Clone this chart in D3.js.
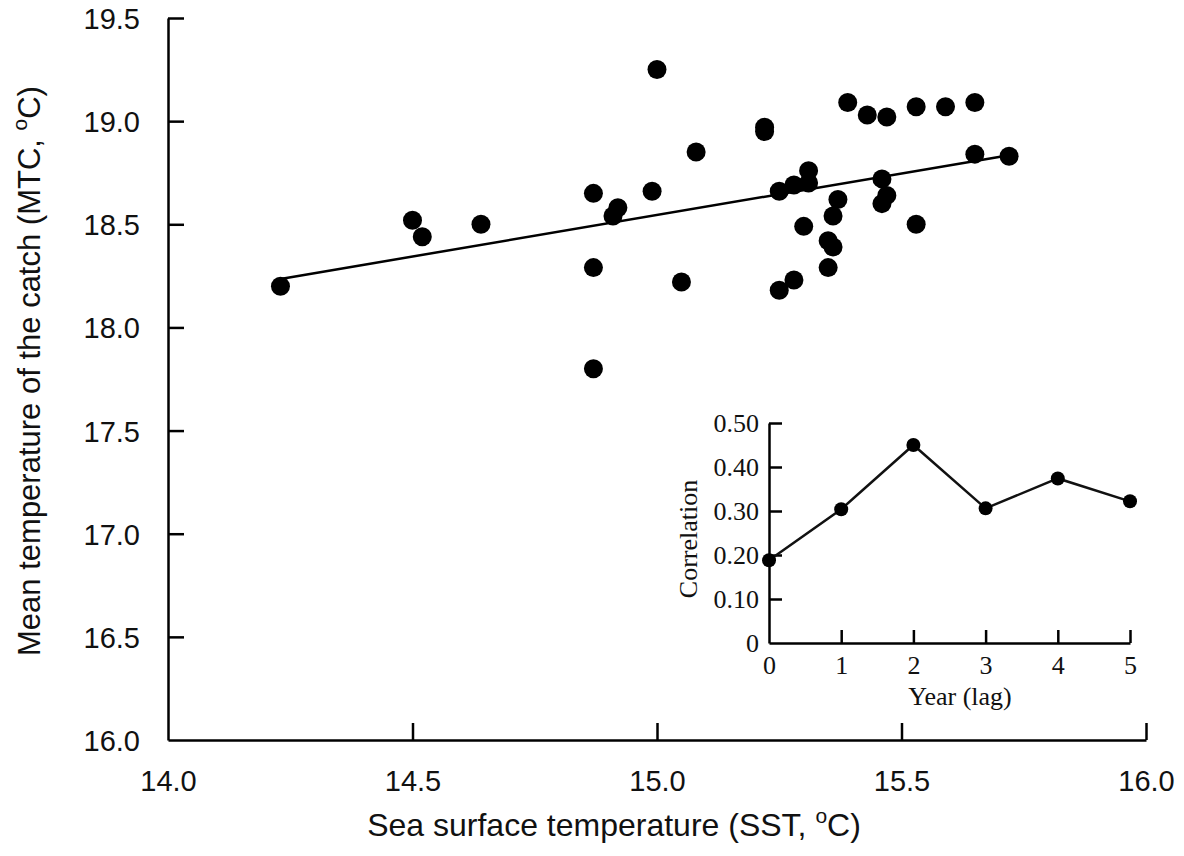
<!DOCTYPE html>
<html>
<head>
<meta charset="utf-8">
<script src="https://cdn.jsdelivr.net/npm/d3@7"></script>
<style>
  body { margin: 0; background: #fff; }
  svg { display: block; }
</style>
</head>
<body>
<div class="chart"></div>
<script>
// Main scatter: SST vs mean temperature of the catch
var sst = [14.23, 14.50, 14.52, 14.64, 14.87, 14.92, 14.91, 14.99, 14.87, 15.05,
  14.87, 15.08, 15.00, 15.22, 15.22, 15.25, 15.28, 15.31, 15.31, 15.37,
  15.36, 15.30, 15.35, 15.36, 15.35, 15.28, 15.25, 15.39, 15.43, 15.47,
  15.53, 15.59, 15.65, 15.65, 15.72, 15.46, 15.47, 15.46, 15.53];
var mtc = [18.20, 18.52, 18.44, 18.50, 18.65, 18.58, 18.54, 18.66, 18.29, 18.22,
  17.80, 18.85, 19.25, 18.97, 18.95, 18.66, 18.69, 18.76, 18.70, 18.62,
  18.54, 18.49, 18.42, 18.39, 18.29, 18.23, 18.18, 19.09, 19.03, 19.02,
  19.07, 19.07, 19.09, 18.84, 18.83, 18.72, 18.64, 18.60, 18.50];

// fitted line end points
var fitX = [14.23, 15.72];
var fitY = [18.235, 18.835];

var xTicks = [14.0, 14.5, 15.0, 15.5, 16.0];
var yTicks = [16.0, 16.5, 17.0, 17.5, 18.0, 18.5, 19.0, 19.5];

// Inset: correlation by lag
var lags = [0, 1, 2, 3, 4, 5];
var corr = [0.188, 0.304, 0.450, 0.306, 0.374, 0.322];
var corrTicks = [0, 0.10, 0.20, 0.30, 0.40, 0.50];

var svgWidth = 1184;
var svgHeight = 856;

var svg = d3.select(".chart")
  .append("svg")
  .attr("width", svgWidth)
  .attr("height", svgHeight);

var sans = "'Liberation Sans', Arial, sans-serif";
var serif = "'Liberation Serif', 'Times New Roman', serif";

// scales for main chart
var xScale = d3.scaleLinear().domain([14, 16]).range([168, 1146]);
var yScale = d3.scaleLinear().domain([16, 19.5]).range([740, 18]);

// axes, ticks drawn inward
var bottomAxis = d3.axisBottom(xScale)
  .tickValues(xTicks)
  .tickFormat(d3.format(".1f"))
  .tickSizeInner(-17)
  .tickSizeOuter(0)
  .tickPadding(25);

var leftAxis = d3.axisLeft(yScale)
  .tickValues(yTicks)
  .tickFormat(d3.format(".1f"))
  .tickSizeInner(-16)
  .tickSizeOuter(0)
  .tickPadding(28);

var xAxisG = svg.append("g")
  .attr("transform", "translate(0,740)")
  .call(bottomAxis);

var yAxisG = svg.append("g")
  .attr("transform", "translate(168,0)")
  .call(leftAxis);

[xAxisG, yAxisG].forEach(function(g) {
  g.select(".domain").attr("stroke", "#000").attr("stroke-width", 2.5);
  g.selectAll(".tick line").attr("stroke", "#000").attr("stroke-width", 2.5);
  g.selectAll(".tick text")
    .attr("fill", "#111")
    .style("font-family", sans)
    .style("font-size", "29px");
});
// hide tick at the origin so the corner stays clean
xAxisG.selectAll(".tick").filter(function(d) { return d === 14; }).select("line").remove();
yAxisG.selectAll(".tick").filter(function(d) { return d === 16; }).select("line").remove();
xAxisG.selectAll(".tick text").attr("dy", "0.9em");
yAxisG.selectAll(".tick text").attr("dy", "0.36em");

// regression line
svg.append("line")
  .attr("x1", xScale(fitX[0]))
  .attr("y1", yScale(fitY[0]))
  .attr("x2", xScale(fitX[1]))
  .attr("y2", yScale(fitY[1]))
  .attr("stroke", "#000")
  .attr("stroke-width", 2.5);

// scatter points
svg.append("g")
  .selectAll("circle")
  .data(sst)
  .enter()
  .append("circle")
  .attr("cx", function(d) { return xScale(d); })
  .attr("cy", function(d, i) { return yScale(mtc[i]); })
  .attr("r", 9.5)
  .attr("fill", "#000");

// axis titles
var xLabel = svg.append("text")
  .attr("x", 614)
  .attr("y", 836)
  .attr("text-anchor", "middle")
  .style("font-family", sans)
  .style("font-size", "32px")
  .attr("fill", "#111");
xLabel.append("tspan").text("Sea surface temperature (SST, ");
xLabel.append("tspan").attr("dy", -13).style("font-size", "21px").text("o");
xLabel.append("tspan").attr("dy", 13).text("C)");

var yLabel = svg.append("text")
  .attr("transform", "translate(40,371) rotate(-90)")
  .attr("text-anchor", "middle")
  .style("font-family", sans)
  .style("font-size", "31px")
  .attr("fill", "#111");
yLabel.append("tspan").text("Mean temperature of the catch (MTC, ");
yLabel.append("tspan").attr("dy", -13).style("font-size", "21px").text("o");
yLabel.append("tspan").attr("dy", 13).text("C)");

// Inset chart
var ix = d3.scaleLinear().domain([0, 5]).range([769, 1130]);
var iy = d3.scaleLinear().domain([0, 0.5]).range([643, 423]);

var insetX = d3.axisBottom(ix)
  .tickValues(lags)
  .tickFormat(d3.format("d"))
  .tickSizeInner(-13)
  .tickSizeOuter(0)
  .tickPadding(13);

var insetY = d3.axisLeft(iy)
  .tickValues(corrTicks)
  .tickFormat(function(d) { return d === 0 ? "0" : d3.format(".2f")(d); })
  .tickSizeInner(-13)
  .tickSizeOuter(0)
  .tickPadding(10);

var ixG = svg.append("g")
  .attr("transform", "translate(0,643)")
  .call(insetX);
var iyG = svg.append("g")
  .attr("transform", "translate(769,0)")
  .call(insetY);

[ixG, iyG].forEach(function(g) {
  g.select(".domain").attr("stroke", "#000").attr("stroke-width", 2.5);
  g.selectAll(".tick line").attr("stroke", "#000").attr("stroke-width", 2.5);
  g.selectAll(".tick text")
    .attr("fill", "#111")
    .style("font-family", serif)
    .style("font-size", "26px");
});
ixG.selectAll(".tick").filter(function(d) { return d === 0; }).select("line").remove();
iyG.selectAll(".tick").filter(function(d) { return d === 0; }).select("line").remove();

var corrLine = d3.line()
  .x(function(d) { return ix(d); })
  .y(function(d, i) { return iy(corr[i]); });

svg.append("path")
  .datum(lags)
  .attr("d", corrLine)
  .attr("fill", "none")
  .attr("stroke", "#111")
  .attr("stroke-width", 2.5);

svg.append("g")
  .selectAll("circle")
  .data(lags)
  .enter()
  .append("circle")
  .attr("cx", function(d) { return ix(d); })
  .attr("cy", function(d, i) { return iy(corr[i]); })
  .attr("r", 7)
  .attr("fill", "#000");

svg.append("text")
  .attr("x", 960)
  .attr("y", 705)
  .attr("text-anchor", "middle")
  .style("font-family", serif)
  .style("font-size", "26px")
  .attr("fill", "#111")
  .text("Year (lag)");

svg.append("text")
  .attr("transform", "translate(697,539) rotate(-90)")
  .attr("text-anchor", "middle")
  .style("font-family", serif)
  .style("font-size", "26px")
  .attr("fill", "#111")
  .text("Correlation");
</script>
</body>
</html>
